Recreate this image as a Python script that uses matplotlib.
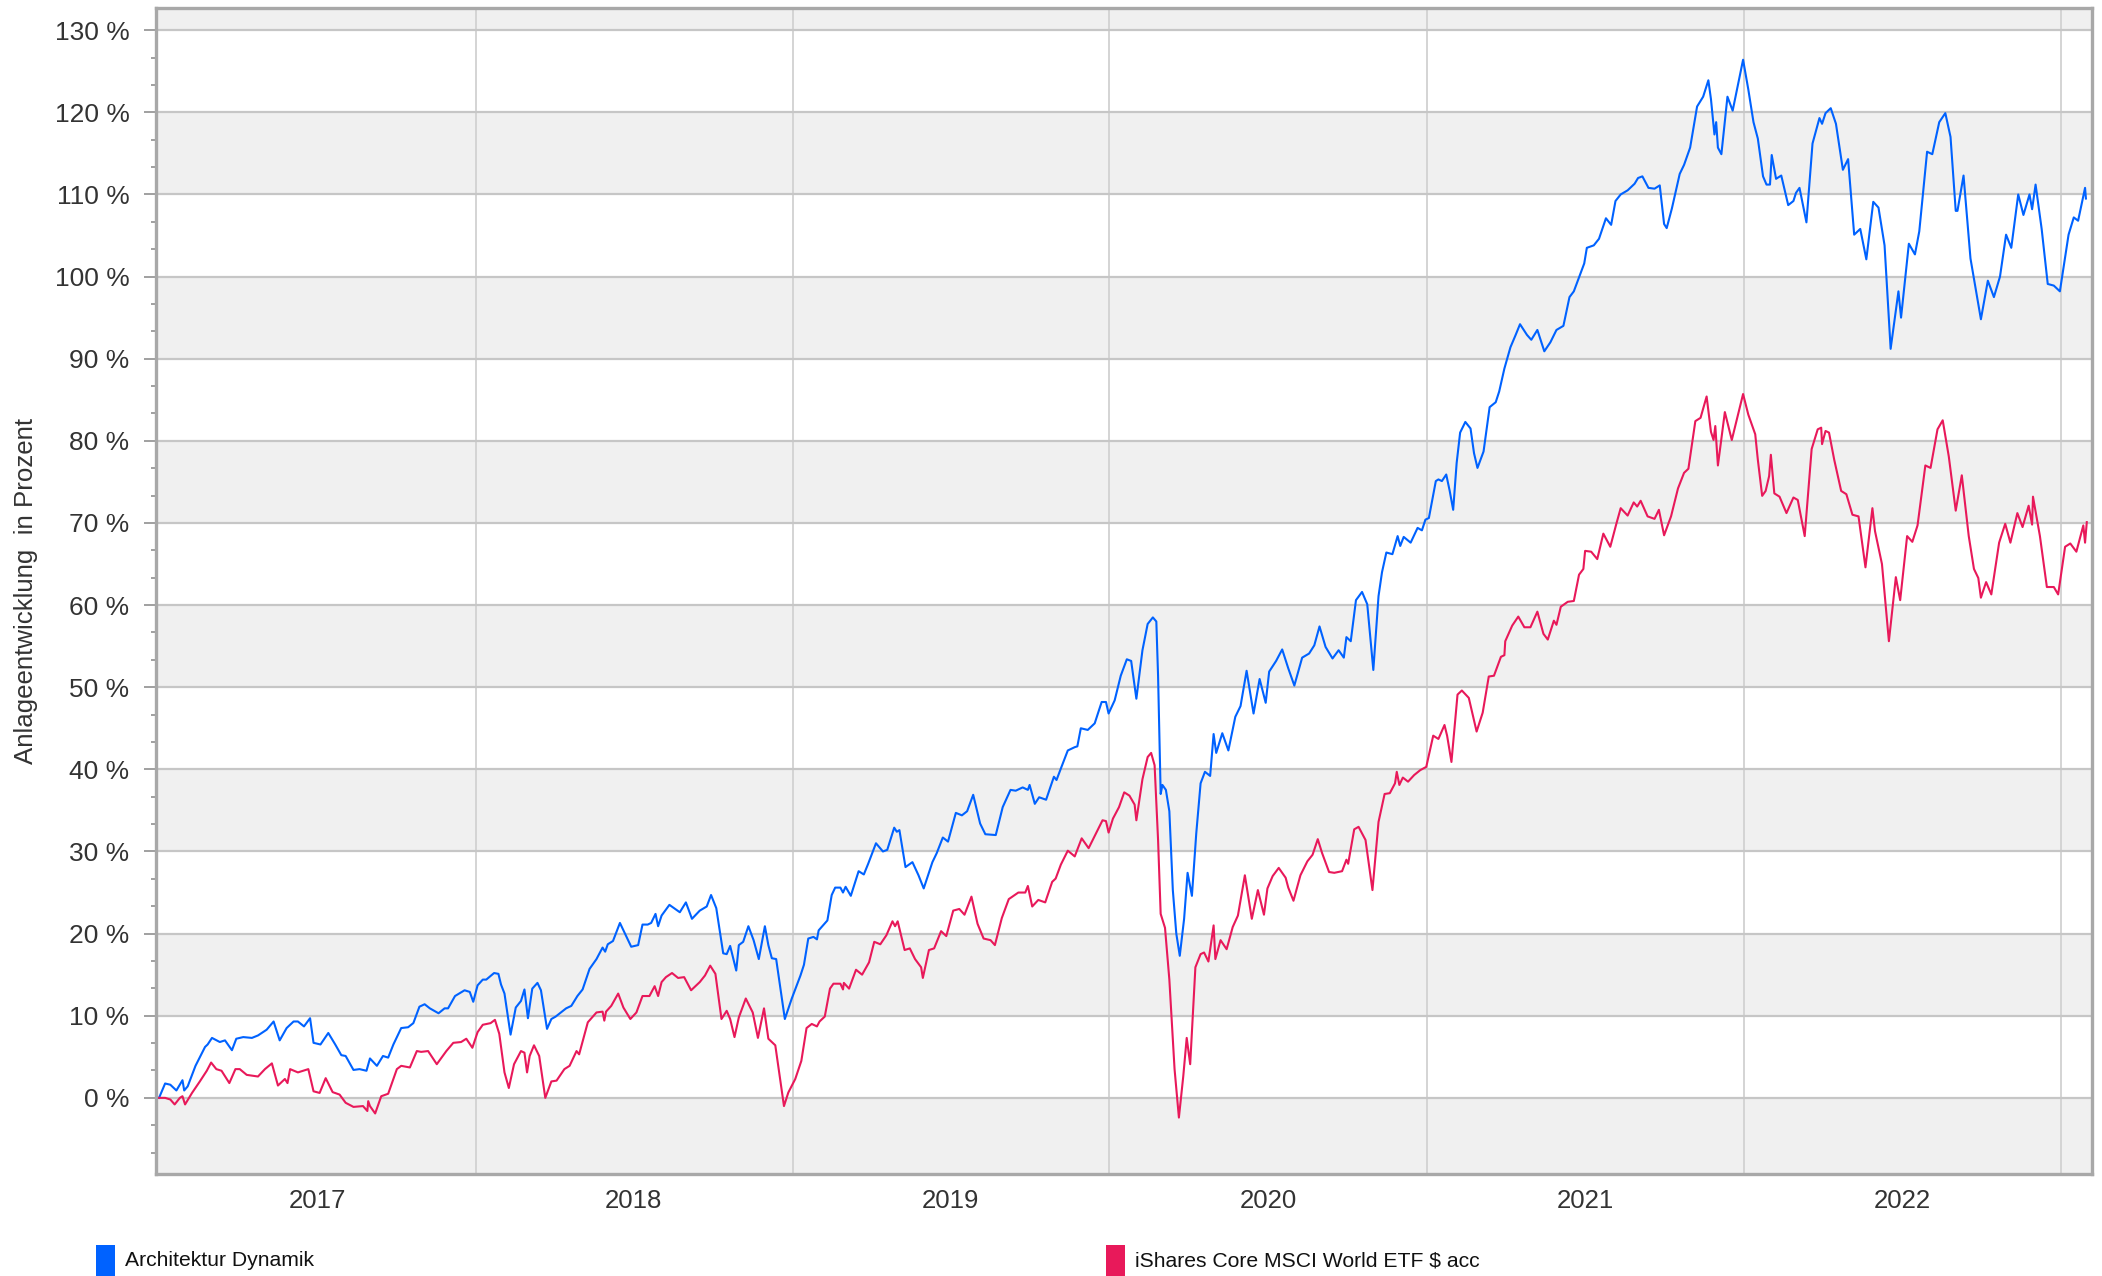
import matplotlib
matplotlib.use("Agg")
import matplotlib.pyplot as plt
import matplotlib.dates as mdates
from matplotlib.ticker import MultipleLocator, FixedLocator, FuncFormatter, NullFormatter
from matplotlib.patches import Rectangle
import pandas as pd

plt.rcParams["font.family"] = ["Liberation Sans", "DejaVu Sans"]

# ---------------- data ----------------
START = "2017-01-01"
series_names = ["Architektur Dynamik", "iShares Core MSCI World ETF $ acc"]
series_colors = ["#0062ff", "#e8195a"]
year_labels = ["2017", "2018", "2019", "2020", "2021", "2022"]

# days since START and performance in percent
arch_days = [
    0, 7, 13, 20, 27, 29, 33, 42, 53, 56, 61, 70, 76, 84, 89, 97, 107, 114, 124, 132,
    139, 147, 155, 160, 167, 174, 178, 186, 195, 203, 210, 215, 224, 231, 239, 243, 251, 258, 264, 270,
    279, 287, 293, 300, 306, 312, 322, 329, 333, 341, 352, 358,
    362, 367, 373, 377, 386, 391, 394, 398, 405, 411, 417, 421, 425, 430, 436, 440, 447, 452, 457, 469,
    475, 482, 488, 496, 504, 511, 514, 517, 523, 531, 535, 544, 552, 557, 563, 567, 572, 575, 579, 588,
    600, 607, 614, 623, 631, 636, 642, 650, 654, 658, 665, 668, 673, 679, 685, 691, 698, 702, 706, 711, 721,
    729, 739, 743, 748, 754, 758, 760, 770, 775, 779, 785, 788, 791, 797,
    806, 812, 817, 826, 834, 839, 847, 850, 853, 860, 868, 875, 881, 891, 896, 903, 909, 918, 925, 931,
    938, 946, 952, 964, 972, 981, 987, 995, 1001, 1003, 1009, 1014, 1022, 1031, 1034, 1039, 1047, 1055,
    1058, 1062, 1070, 1078, 1086, 1091, 1094,
    1101, 1108, 1115, 1120, 1126, 1133, 1139, 1145, 1149, 1151, 1154, 1156, 1160, 1164, 1168, 1172, 1176,
    1181, 1185, 1190, 1195, 1200, 1205, 1211, 1215, 1218, 1225, 1232, 1240, 1246, 1253, 1261, 1268, 1275,
    1279, 1287, 1294, 1301, 1308, 1317, 1325, 1331, 1337, 1344, 1352, 1359, 1365, 1368, 1373, 1379, 1386,
    1392, 1399,
    1405, 1409, 1414, 1421, 1427, 1430, 1434, 1442, 1450, 1455, 1459, 1463,
    1471, 1474, 1478, 1483, 1487, 1491, 1495, 1499, 1505, 1511, 1515, 1519, 1526, 1533, 1540, 1544, 1550,
    1557, 1563, 1568, 1576, 1581, 1588, 1596, 1603, 1610, 1618, 1625, 1630, 1637, 1642, 1645, 1653, 1659,
    1667, 1673, 1678, 1684, 1692, 1700, 1704, 1709, 1716, 1723, 1729, 1734, 1737, 1743, 1752, 1757, 1764,
    1772, 1779, 1785, 1788, 1792, 1794, 1796, 1800, 1807, 1813, 1825,
    1831, 1837, 1842, 1848, 1852, 1856, 1858, 1863, 1869, 1877, 1883, 1886, 1890, 1898, 1905, 1913, 1916,
    1920, 1926, 1932, 1940, 1946, 1953, 1960, 1967, 1975, 1981, 1988, 1995, 2004, 2007, 2016, 2023, 2028,
    2037, 2043, 2051, 2058, 2064, 2070, 2072, 2079, 2087, 2093, 2099, 2107, 2114, 2121, 2128, 2134, 2142,
    2148, 2155, 2158, 2162, 2169, 2176, 2183, 2190, 2200, 2206, 2211, 2219, 2220,
]
arch_vals = [
    0, 1.75, 1.6, 0.9, 2.15, 0.9, 1.4, 3.9, 6.2, 6.5, 7.3, 6.8, 7.0, 5.8, 7.2, 7.4, 7.3, 7.6, 8.3, 9.3,
    7.0, 8.5, 9.3, 9.3, 8.7, 9.7, 6.7, 6.5, 7.9, 6.5, 5.2, 5.1, 3.4, 3.5, 3.3, 4.8, 3.9, 5.1, 4.9, 6.5,
    8.5, 8.6, 9.1, 11.1, 11.4, 10.9, 10.3, 10.9, 10.9, 12.4, 13.1, 12.9,
    11.7, 13.7, 14.4, 14.4, 15.2, 15.1, 13.8, 12.7, 7.7, 11.0, 11.8, 13.2, 9.7, 13.3, 14.0, 13.1, 8.4, 9.6, 9.9, 10.9,
    11.2, 12.4, 13.2, 15.7, 16.9, 18.3, 17.8, 18.7, 19.1, 21.3, 20.4, 18.4, 18.6, 21.1, 21.1, 21.3, 22.4, 20.9, 22.2, 23.5,
    22.6, 23.8, 21.8, 22.8, 23.3, 24.7, 23.1, 17.6, 17.5, 18.5, 15.5, 18.6, 19.0, 20.9, 19.2, 16.9, 20.9, 18.6, 17.0, 16.9, 9.6,
    12.1, 14.9, 16.2, 19.4, 19.6, 19.3, 20.4, 21.6, 24.7, 25.6, 25.6, 25.0, 25.7, 24.6,
    27.6, 27.2, 28.5, 31.0, 30.0, 30.2, 32.9, 32.4, 32.6, 28.1, 28.7, 27.1, 25.5, 28.7, 29.8, 31.7, 31.2, 34.7, 34.4, 34.9,
    36.9, 33.4, 32.1, 32.0, 35.4, 37.5, 37.4, 37.8, 37.5, 38.1, 35.8, 36.6, 36.3, 39.1, 38.7, 40.1, 42.3, 42.7,
    42.8, 45.0, 44.8, 45.6, 48.2, 48.2, 46.8,
    48.4, 51.4, 53.4, 53.2, 48.6, 54.5, 57.7, 58.5, 58.0, 51.4, 37.0, 38.1, 37.5, 34.9, 25.3, 20.0, 17.3,
    21.8, 27.4, 24.6, 32.2, 38.3, 39.7, 39.2, 44.3, 42.0, 44.4, 42.3, 46.4, 47.7, 52.0, 46.8, 51.0, 48.1,
    51.9, 53.2, 54.6, 52.3, 50.2, 53.6, 54.1, 55.1, 57.4, 54.9, 53.5, 54.5, 53.6, 56.1, 55.6, 60.6, 61.6,
    60.1, 52.1,
    61.1, 64.0, 66.4, 66.2, 68.4, 67.2, 68.3, 67.6, 69.4, 69.1, 70.4, 70.6,
    75.1, 75.3, 75.1, 75.9, 73.9, 71.6, 77.3, 81.0, 82.3, 81.5, 78.5, 76.7, 78.7, 84.1, 84.7, 86.0, 88.8,
    91.4, 92.9, 94.2, 92.9, 92.3, 93.5, 90.9, 92.0, 93.5, 94.0, 97.5, 98.2, 100.2, 101.6, 103.5, 103.8, 104.6,
    107.1, 106.3, 109.2, 110.0, 110.5, 111.3, 112.0, 112.2, 110.8, 110.7, 111.1, 106.4, 105.9, 108.3, 112.5, 113.6, 115.7,
    120.7, 121.9, 123.9, 121.6, 117.3, 118.8, 115.7, 114.9, 121.9, 120.2, 126.4,
    122.8, 118.8, 116.8, 112.2, 111.2, 111.2, 114.8, 111.9, 112.3, 108.7, 109.2, 110.2, 110.8, 106.6, 116.2, 119.3, 118.6,
    119.9, 120.5, 118.6, 113.0, 114.3, 105.1, 105.8, 102.1, 109.1, 108.4, 103.8, 91.2, 98.2, 95.0, 104.0, 102.7, 105.5,
    115.2, 114.9, 118.8, 119.9, 117.0, 108.0, 108.0, 112.3, 102.2, 98.5, 94.8, 99.5, 97.5, 100.0, 105.1, 103.5, 110.0,
    107.5, 110.0, 108.2, 111.2, 105.8, 99.1, 98.9, 98.2, 105.1, 107.2, 106.8, 110.8, 109.5,
]

msci_days = [
    0, 7, 13, 18, 24, 27, 30, 38, 47, 55, 60, 66, 72, 81, 88, 93, 101, 114, 122, 130,
    137, 145, 148, 151, 160, 172, 178, 185, 192, 200, 208, 215, 224, 235, 240, 241, 243, 249, 256, 264,
    274, 279, 289, 297, 302, 310, 320, 331, 339, 348, 354, 361,
    367, 373, 382, 387, 392, 398, 403, 409, 417, 421, 424, 427, 432, 438, 445, 452, 458, 467, 473, 481,
    484, 494, 504, 511, 513, 515, 521, 529, 535, 543, 550, 557, 565, 571, 575, 579, 584, 591, 598, 605,
    613, 623, 629, 635, 641, 648, 654, 658, 663, 668, 676, 684, 690, 697, 702, 710,
    720, 725, 733, 740, 746, 752, 758, 761, 767, 773, 777, 785, 788, 789, 795, 803, 810, 818, 824, 831,
    838, 845, 848, 851, 859, 865, 871, 878, 880, 887, 893, 901, 907, 915, 922, 928, 936, 943, 950, 958,
    963, 971, 979, 990, 998, 1001, 1006, 1013,
    1021, 1029, 1033, 1039, 1047, 1055, 1063, 1071, 1078, 1087, 1091, 1094,
    1099, 1106, 1112, 1118, 1124, 1126, 1133, 1139, 1143, 1147, 1151, 1154, 1159, 1164, 1170, 1175, 1180,
    1184, 1188, 1194, 1200, 1204, 1209, 1215, 1217, 1223, 1230, 1237, 1243, 1251, 1259, 1266, 1273, 1277,
    1283, 1290, 1298, 1301, 1307, 1315, 1323, 1329, 1335, 1340, 1348, 1354, 1363, 1368, 1370, 1377, 1382,
    1390, 1398, 1405, 1412, 1418, 1424, 1426, 1429, 1433, 1439, 1446, 1453, 1460,
    1468, 1474, 1481, 1484, 1489, 1496, 1501, 1509, 1518, 1525, 1532, 1538, 1546, 1550, 1551, 1559, 1566,
    1573, 1580, 1588, 1595, 1600, 1607, 1610, 1615, 1623, 1630, 1636, 1641, 1643, 1650, 1657, 1664, 1672,
    1679, 1684, 1692, 1699, 1703, 1707, 1715, 1723, 1728, 1734, 1742, 1750, 1757, 1762, 1770, 1776, 1783,
    1788, 1791, 1793, 1796, 1804, 1812, 1825,
    1831, 1839, 1842, 1847, 1851, 1855, 1857, 1861, 1867, 1875, 1883, 1888, 1896, 1904, 1911, 1915, 1916,
    1920, 1924, 1930, 1938, 1944, 1951, 1958, 1966, 1974, 1977, 1985, 1993, 2001, 2006, 2014, 2020, 2026,
    2035, 2041, 2049, 2055, 2062, 2070, 2077, 2085, 2091, 2096, 2099, 2105, 2111, 2120, 2127, 2133, 2141,
    2147, 2154, 2158, 2159, 2167, 2175, 2183, 2188, 2196, 2202, 2209, 2217, 2219, 2221,
]
msci_vals = [
    0, 0, -0.2, -0.8, 0, 0.2, -0.8, 0.6, 2.0, 3.3, 4.3, 3.5, 3.3, 1.8, 3.5, 3.5, 2.8, 2.6, 3.5, 4.2,
    1.5, 2.3, 1.8, 3.5, 3.1, 3.5, 0.8, 0.6, 2.4, 0.7, 0.4, -0.6, -1.1, -1.0, -1.6, -0.4, -1.0, -1.9, 0.2, 0.5,
    3.5, 3.9, 3.7, 5.7, 5.6, 5.7, 4.1, 5.7, 6.7, 6.8, 7.2, 6.1,
    8.0, 8.9, 9.1, 9.5, 7.8, 3.1, 1.2, 4.1, 5.7, 5.5, 3.1, 5.1, 6.4, 5.1, 0.0, 2.0, 2.1, 3.5, 3.9, 5.7,
    5.3, 9.2, 10.4, 10.5, 9.4, 10.5, 11.2, 12.7, 11.0, 9.6, 10.4, 12.4, 12.4, 13.6, 12.4, 14.1, 14.7, 15.2, 14.6, 14.7,
    13.1, 14.1, 14.9, 16.1, 15.1, 9.6, 10.6, 9.6, 7.4, 9.8, 12.1, 10.4, 7.3, 10.9, 7.2, 6.4,
    -1.0, 0.65, 2.3, 4.5, 8.5, 9.0, 8.7, 9.3, 9.9, 13.3, 13.9, 13.9, 13.2, 14.0, 13.3, 15.6, 15.0, 16.5, 19.0, 18.7,
    19.8, 21.5, 20.9, 21.5, 18.0, 18.2, 16.9, 15.9, 14.6, 18.0, 18.2, 20.3, 19.7, 22.8, 23.0, 22.3, 24.5, 21.2, 19.4, 19.2,
    18.6, 21.9, 24.2, 25.0, 25.0, 25.8, 23.3, 24.1,
    23.8, 26.3, 26.7, 28.4, 30.1, 29.4, 31.6, 30.4, 31.9, 33.8, 33.7, 32.3,
    34.0, 35.4, 37.2, 36.8, 35.7, 33.8, 38.8, 41.5, 42.0, 40.5, 31.4, 22.4, 20.7, 14.4, 3.5, -2.4, 2.6,
    7.3, 4.1, 15.9, 17.5, 17.7, 16.6, 21.0, 16.9, 19.2, 18.1, 20.8, 22.2, 27.1, 21.8, 25.3, 22.3, 25.5,
    27.0, 28.0, 26.8, 25.6, 24.0, 27.1, 28.8, 29.6, 31.5, 29.8, 27.5, 27.4, 27.6, 29.0, 28.5, 32.7, 33.0,
    31.4, 25.3, 33.6, 37.0, 37.1, 38.3, 39.7, 38.1, 39.0, 38.5, 39.3, 39.9, 40.3,
    44.1, 43.7, 45.4, 44.1, 40.9, 49.1, 49.6, 48.7, 44.6, 46.9, 51.3, 51.4, 53.7, 53.9, 55.6, 57.5, 58.6,
    57.3, 57.3, 59.2, 56.5, 55.8, 58.1, 57.6, 59.8, 60.4, 60.5, 63.7, 64.4, 66.6, 66.5, 65.6, 68.7, 67.1,
    69.9, 71.8, 70.9, 72.5, 72.0, 72.7, 70.8, 70.5, 71.6, 68.5, 70.8, 74.2, 76.1, 76.6, 82.4, 82.8, 85.4,
    81.1, 80.1, 81.8, 77.0, 83.5, 80.1, 85.7,
    83.2, 80.8, 77.7, 73.3, 73.9, 75.7, 78.3, 73.6, 73.2, 71.2, 73.1, 72.8, 68.4, 79.0, 81.4, 81.6, 79.6,
    81.2, 81.0, 77.7, 73.9, 73.5, 71.0, 70.8, 64.6, 71.8, 69.0, 65.0, 55.6, 63.4, 60.6, 68.4, 67.7, 69.7,
    77.0, 76.7, 81.4, 82.5, 78.1, 71.5, 75.8, 68.4, 64.4, 63.3, 60.9, 62.8, 61.3, 67.6, 69.9, 67.6, 71.2,
    69.5, 72.1, 69.8, 73.2, 68.4, 62.2, 62.2, 61.3, 67.1, 67.5, 66.5, 69.7, 67.6, 70.1,
]

y_ticks = list(range(0, 140, 10))

# ---------------- figure ----------------
W, H = 2102, 1276
fig = plt.figure(figsize=(W / 100, H / 100), dpi=100)
L, R, T, B = 156, 2092, 8, 1174
ax = fig.add_axes([L / W, 1 - B / H, (R - L) / W, (B - T) / H])

start = pd.Timestamp(START)
def to_dates(days):
    return start + pd.to_timedelta(days, unit="D")

# alternating bands
for lo in range(-10, 140, 20):
    ax.axhspan(lo, lo + 10, color="#f0f0f0", lw=0, zorder=0)

for days, vals, col in [(arch_days, arch_vals, series_colors[0]),
                        (msci_days, msci_vals, series_colors[1])]:
    ax.plot(to_dates(days), vals, color=col, lw=1.5, solid_joinstyle="round", zorder=3)

ax.set_ylim(-9.27, 132.7)
ax.set_xlim(mdates.date2num(start - pd.Timedelta(days=3.5)),
            mdates.date2num(start + pd.Timedelta(days=2227)))

# y axis
ax.yaxis.set_major_locator(FixedLocator(y_ticks))
ax.yaxis.set_minor_locator(MultipleLocator(10 / 3))
ax.yaxis.set_major_formatter(FuncFormatter(lambda v, p: f"{int(round(v))} %"))
ax.tick_params(axis="y", which="major", length=8.6, width=1.4, color="#a0a0a0",
               pad=10.5, labelsize=19, labelcolor="#333333")
ax.tick_params(axis="y", which="minor", length=3.6, width=1.4, color="#a0a0a0")

# x axis: gridlines at year boundaries, labels at mid-year
year_starts = [pd.Timestamp(f"{y}-01-01") for y in range(2018, 2024)]
mid_years = [pd.Timestamp(f"{y}-07-02") for y in year_labels]
ax.xaxis.set_major_locator(FixedLocator(mdates.date2num(year_starts)))
ax.xaxis.set_major_formatter(NullFormatter())
ax.xaxis.set_minor_locator(FixedLocator(mdates.date2num(mid_years)))
ax.xaxis.set_minor_formatter(FuncFormatter(lambda v, p: mdates.num2date(v).strftime("%Y")))
ax.tick_params(axis="x", which="both", length=0, pad=11, labelsize=18.5, labelcolor="#333333")

ax.grid(axis="y", which="major", color="#c6c6c6", lw=1.6, zorder=1)
ax.grid(axis="x", which="major", color="#d4d4d4", lw=1.4, zorder=1)
ax.set_axisbelow(True)

for s in ax.spines.values():
    s.set_color("#a8a8a8")
    s.set_linewidth(2.4)

fig.text(26 / W, 1 - 591 / H, "Anlageentwicklung  in Prozent", rotation=90,
         ha="center", va="center", fontsize=18.6, color="#333333")

# legend
leg_x = [96, 1106]
for name, col, x0 in zip(series_names, series_colors, leg_x):
    fig.patches.append(Rectangle((x0 / W, 0), 19 / W, 31 / H, transform=fig.transFigure,
                                 facecolor=col, edgecolor="none"))
    fig.text((x0 + 29) / W, 1 - 1261 / H, name, ha="left", va="center",
             fontsize=15.2, color="#111111")

fig.savefig("out.png", dpi=100)
